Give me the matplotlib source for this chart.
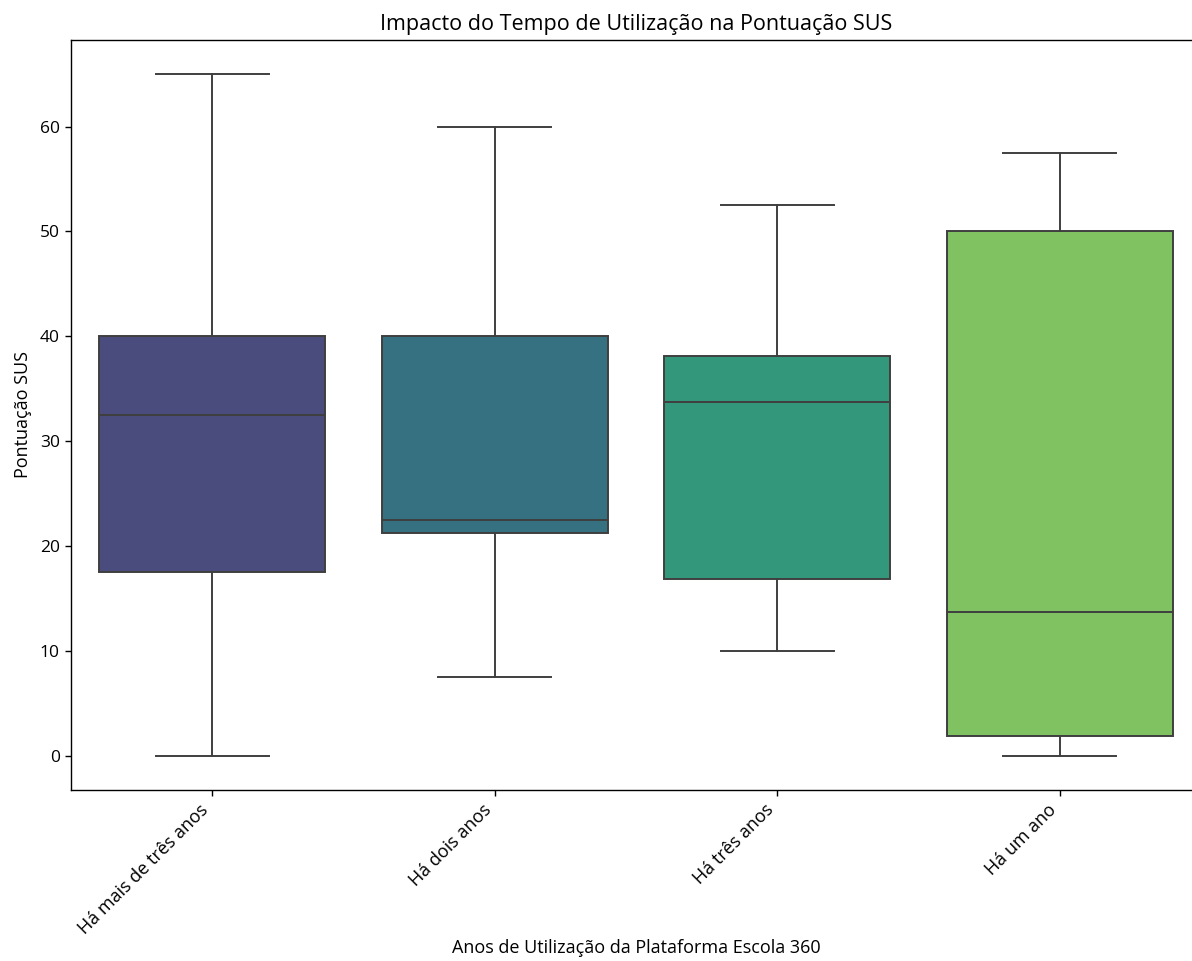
import numpy as np
import matplotlib
matplotlib.use("Agg")
import matplotlib.pyplot as plt
import seaborn as sns

plt.rcParams['font.family'] = ['Open Sans', 'DejaVu Sans']

# Box statistics
categories = ["Há mais de três anos", "Há dois anos", "Há três anos", "Há um ano"]
whisker_low = [0.0, 7.5, 10.0, 0.0]
q1 = [17.5, 21.25, 16.9, 1.9]
median = [32.5, 22.5, 33.75, 13.75]
q3 = [40.0, 40.0, 38.1, 50.0]
whisker_high = [65.0, 60.0, 52.5, 57.5]

stats = []
for i, name in enumerate(categories):
    stats.append({"label": name, "whislo": whisker_low[i], "q1": q1[i],
                  "med": median[i], "q3": q3[i], "whishi": whisker_high[i],
                  "fliers": []})

palette = [sns.desaturate(c, 0.75) for c in sns.color_palette("viridis", 4)]
line_col = "#3f3f3f"
lw = 1.4

fig = plt.figure(figsize=(11.92, 9.61), dpi=100)
ax = fig.add_axes([71 / 1192, 171 / 961, 1130 / 1192, 750 / 961])

bp = ax.bxp(stats, positions=range(len(categories)), widths=0.8, capwidths=0.4,
            patch_artist=True, showfliers=False,
            boxprops=dict(edgecolor=line_col, linewidth=lw),
            whiskerprops=dict(color=line_col, linewidth=lw),
            capprops=dict(color=line_col, linewidth=lw),
            medianprops=dict(color=line_col, linewidth=lw))
for patch, col in zip(bp["boxes"], palette):
    patch.set_facecolor(col)

for s in ax.spines.values():
    s.set_linewidth(1.0)
ax.tick_params(width=1.0, length=4.5)

ax.set_xlim(-0.5, 3.5)
ax.set_ylim(-3.25, 68.25)
ax.set_xticks(range(len(categories)))
ax.set_xticklabels(categories, rotation=45, ha="right", fontsize=13)
ax.tick_params(axis="y", labelsize=12.5)
ax.set_title("Impacto do Tempo de Utilização na Pontuação SUS", fontsize=15.5, pad=7)
ax.set_xlabel("Anos de Utilização da Plataforma Escola 360", fontsize=13, labelpad=1)
ax.set_ylabel("Pontuação SUS", fontsize=13, labelpad=6)

fig.savefig("out.png", dpi=100)
